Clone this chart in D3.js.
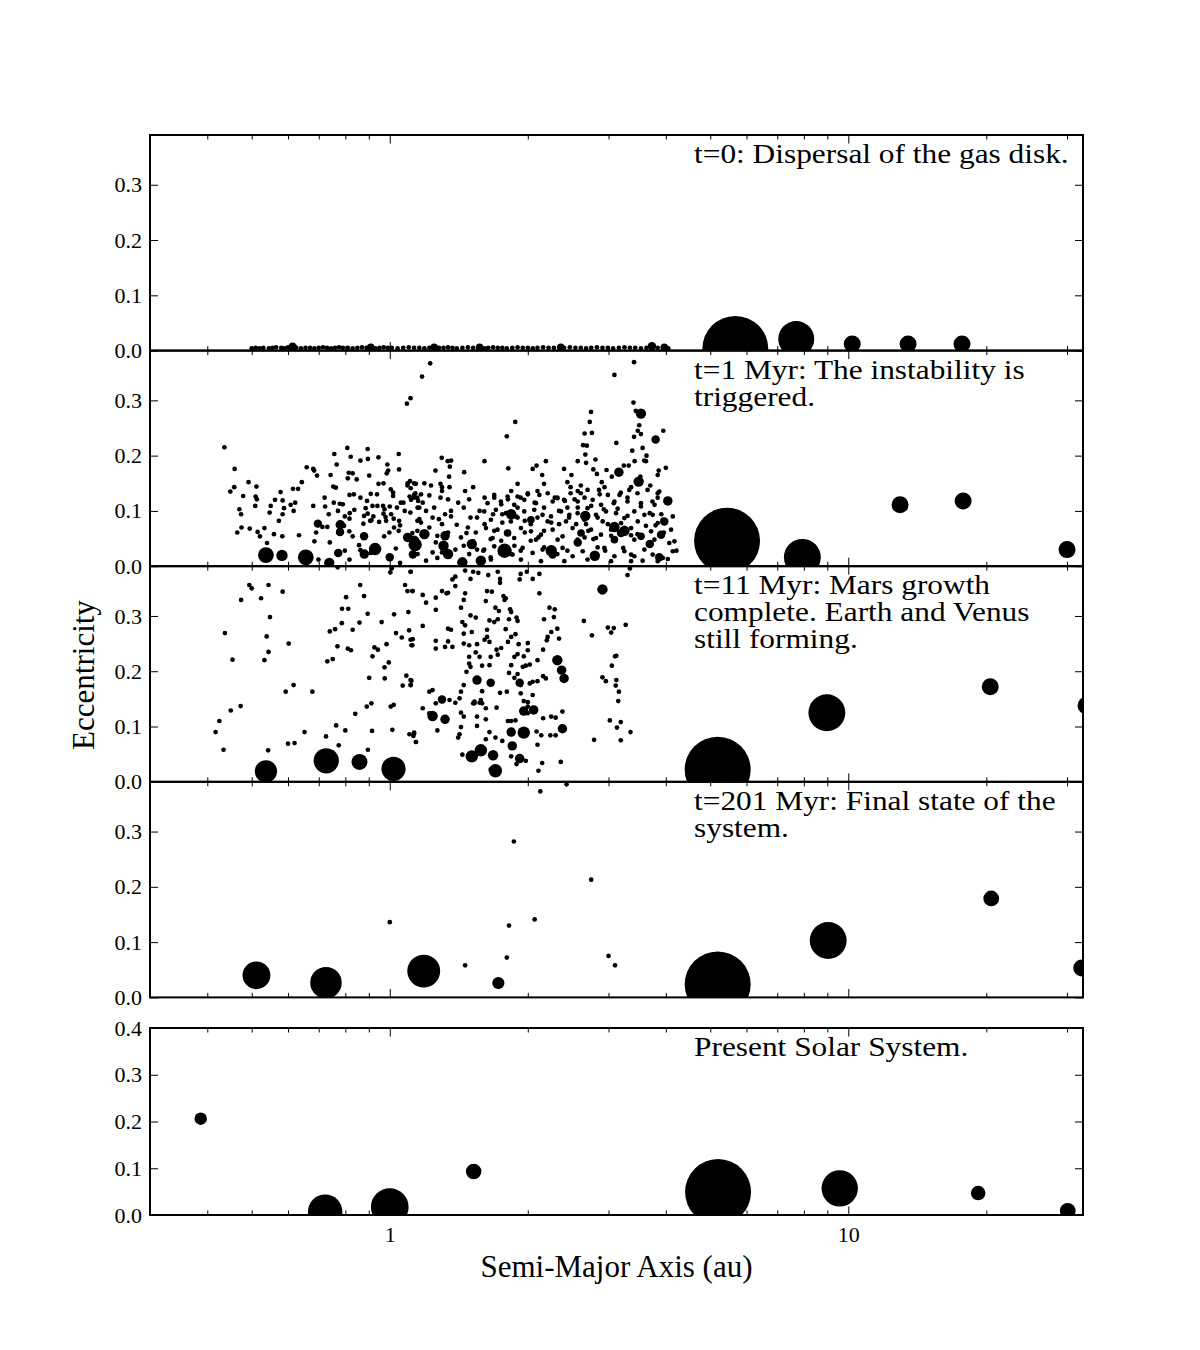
<!DOCTYPE html>
<html>
  <head>
    <meta charset="UTF-8">
    <script src="https://d3js.org/d3.v7.min.js"></script>
    <style>
      body { margin: 0; background: #fff; }
      #svg { display: block; }
      #svg text { font-family: "Liberation Serif", "Times New Roman", serif; fill: #000; }
      .ticks line { stroke: #000; stroke-width: 1; }
      .ticks .domain { stroke: none; }
    </style>
    <title>Eccentricity vs semi-major axis</title>
  </head>
  <body>
    <svg id="svg" width="1200" height="1350"></svg>
    <script>

// ************ Part A: data ************
// a = semi-major axis (au), e = eccentricity, m = mass (Earth masses)

const panelLabels = [
  ["t=0: Dispersal of the gas disk."],
  ["t=1 Myr: The instability is", "triggered."],
  ["t=11 Myr: Mars growth", "complete. Earth and Venus", "still forming."],
  ["t=201 Myr: Final state of the", "system."],
  ["Present Solar System."]
];

const yTicks = [0.0, 0.1, 0.2, 0.3];
const yTicksSolar = [0.0, 0.1, 0.2, 0.3, 0.4];
const xMajorTicks = [1, 10];
const xMinorTicks = [0.4, 0.5, 0.6, 0.7, 0.8, 0.9, 2, 3, 4, 5, 6, 7, 8, 9, 20, 30];

// t = 0
const t0Planetesimals = [
  [0.50,0.004],[0.51,0.005],[0.52,0.004],[0.53,0.005],[0.545,0.004],[0.555,0.005],[0.565,0.006],[0.58,0.005],
  [0.59,0.004],[0.60,0.006],[0.625,0.005],[0.64,0.004],[0.655,0.005],[0.67,0.005],[0.685,0.004],[0.70,0.005],
  [0.715,0.006],[0.73,0.005],[0.745,0.004],[0.76,0.005],[0.775,0.006],[0.79,0.005],[0.81,0.005],[0.83,0.004],
  [0.85,0.005],[0.87,0.006],[0.89,0.005],[0.93,0.004],[0.95,0.005],[0.97,0.006],[0.99,0.005],[1.01,0.005],
  [1.04,0.004],[1.07,0.005],[1.10,0.006],[1.13,0.005],[1.16,0.005],[1.19,0.004],[1.22,0.005],[1.28,0.005],
  [1.31,0.005],[1.34,0.006],[1.37,0.005],[1.40,0.004],[1.44,0.005],[1.48,0.006],[1.52,0.005],[1.61,0.004],
  [1.64,0.005],[1.68,0.006],[1.72,0.005],[1.76,0.005],[1.80,0.004],[1.85,0.005],[1.90,0.006],[1.95,0.005],
  [2.00,0.005],[2.05,0.004],[2.10,0.005],[2.16,0.006],[2.22,0.005],[2.28,0.005],[2.40,0.005],[2.47,0.006],
  [2.54,0.005],[2.61,0.005],[2.68,0.004],[2.75,0.005],[2.83,0.006],[2.91,0.005],[2.99,0.005],[3.07,0.004],
  [3.16,0.005],[3.25,0.006],[3.34,0.005],[3.43,0.005],[3.53,0.004],[3.63,0.005],[3.84,0.005],[3.95,0.005],[4.05,0.004]
];
const t0Embryos = [
  [0.614,0.007,0.013],[0.909,0.006,0.008],[1.25,0.006,0.008],[1.57,0.006,0.008],[2.36,0.006,0.008],
  [3.73,0.008,0.013],[3.97,0.006,0.008]
];
const t0Giants = [[5.67,0.003,318],[7.7,0.021,93],[10.2,0.012,20],[13.5,0.012,20],[17.7,0.012,20]];

// t = 1 Myr
const t1Planetesimals = [
  [1.11,0.304],[1.09,0.294],[0.436,0.215],[0.459,0.176],[0.449,0.135],[0.458,0.143],[0.479,0.127],[0.492,0.152],
  [0.512,0.144],[0.51,0.126],[0.513,0.121],[0.47,0.103],[0.474,0.094],[0.509,0.109],[0.475,0.070],[0.465,0.061],
  [0.495,0.068],[0.521,0.054],[0.515,0.062],[0.533,0.069],[0.54,0.042],[0.547,0.097],[0.55,0.109],[0.562,0.12],
  [0.578,0.134],[0.584,0.119],[0.573,0.082],[0.584,0.094],[0.583,0.054],[0.559,0.058],[0.588,0.105],[0.608,0.111],
  [0.615,0.14],[0.631,0.14],[0.622,0.115],[0.617,0.1],[0.634,0.056],[0.643,0.152],[0.659,0.179],[0.681,0.176],
  [0.684,0.173],[0.694,0.164],[0.681,0.109],[0.685,0.045],[0.691,0.061],[0.699,0.012],[0.721,0.124],[0.723,0.108],
  [0.713,0.071],[0.731,0.071],[0.736,0.094],[0.74,0.043],[0.743,0.165],[0.753,0.144],[0.757,0.203],[0.763,0.142],
  [0.766,0.184],[0.755,0.115],[0.778,0.113],[0.79,0.112],[0.771,0.1],[0.798,0.09],[0.808,0.214],[0.822,0.198],
  [0.81,0.159],[0.814,0.169],[0.83,0.168],[0.847,0.157],[0.817,0.129],[0.835,0.13],[0.837,0.102],[0.818,0.096],
  [0.817,0.086],[0.795,0.073],[0.816,0.063],[0.83,0.054],[0.857,0.038],[0.863,0.191],[0.895,0.212],[0.896,0.194],
  [0.945,0.197],[0.902,0.164],[0.863,0.124],[0.892,0.118],[0.909,0.131],[0.938,0.13],[0.945,0.149],[0.969,0.15],
  [0.886,0.105],[0.895,0.095],[0.917,0.109],[0.94,0.109],[0.967,0.109],[0.974,0.103],[0.921,0.09],[0.906,0.082],
  [0.879,0.091],[0.948,0.08],[0.979,0.089],[0.969,0.095],[0.876,0.077],[0.876,0.055],[0.912,0.083],[0.988,0.184],
  [0.985,0.168],[0.992,0.173],[1.046,0.203],[1.048,0.175],[1.005,0.139],[1.017,0.133],[1.017,0.127],[1.037,0.106],
  [1.057,0.115],[1.0,0.108],[1.007,0.094],[1.02,0.086],[1.048,0.082],[1.053,0.074],[1.071,0.115],[1.078,0.1],
  [1.094,0.15],[1.107,0.154],[1.13,0.15],[1.093,0.146],[1.111,0.141],[1.137,0.132],[1.105,0.126],[1.113,0.12],
  [1.13,0.129],[1.149,0.124],[1.153,0.118],[1.16,0.106],[1.149,0.082],[1.149,0.064],[1.124,0.043],[1.053,0.006],
  [1.109,0.097],[1.022,0.07],[0.998,0.061],[0.982,0.082],[0.972,0.054],[1.046,0.064],[1.031,0.032],[0.909,0.024],
  [0.863,0.029],[0.817,0.012],[0.798,0.028],
  [1.225,0.367],[1.176,0.343],[1.878,0.261],[1.80,0.235],[1.813,0.177],[1.609,0.19],[1.298,0.196],[1.258,0.173],
  [1.338,0.19],[1.352,0.18],[1.361,0.191],[1.453,0.17],[1.347,0.162],[3.09,0.346],[3.41,0.369],[3.40,0.296],
  [3.44,0.281],[3.54,0.272],[3.50,0.255],[3.474,0.245],[3.41,0.234],[3.53,0.239],[3.38,0.209],[3.56,0.214],
  [3.63,0.2],[3.59,0.191],[3.42,0.19],[3.12,0.223],[2.747,0.279],[2.73,0.261],[2.76,0.241],[2.66,0.24],
  [2.64,0.219],[2.69,0.218],[2.67,0.202],[2.57,0.19],[2.68,0.187],[2.81,0.193],[2.78,0.175],[2.83,0.167],
  [2.97,0.174],[3.05,0.162],[3.14,0.171],[3.24,0.182],[3.32,0.182],[3.52,0.162],[3.62,0.19],[3.95,0.245],
  [3.86,0.173],[3.84,0.165],[4.0,0.178],[3.70,0.146],[3.87,0.135],[3.84,0.124],[3.74,0.117],[3.53,0.108],
  [3.69,0.096],[3.91,0.094],[3.80,0.074],[3.62,0.073],[3.96,0.061],[4.07,0.042],[4.22,0.028],[4.04,0.013],
  [3.56,0.01],[3.36,0.021],[3.23,0.033],[2.99,0.076],[3.04,0.055],[3.36,0.056],[3.47,0.058],[3.14,0.104],
  [3.08,0.114],[3.19,0.133],[3.36,0.143],[3.30,0.124],[3.30,0.091],[2.94,0.143],[2.90,0.152],[2.87,0.13],
  [2.93,0.103],[2.84,0.088],[2.95,0.028],[2.84,0.034],[2.78,0.049],[2.68,0.076],[2.71,0.064],[2.75,0.109],
  [2.66,0.124],[2.57,0.136],[2.61,0.146],[2.44,0.152],[2.49,0.165],[2.40,0.176],[2.48,0.143],[2.53,0.121],
  [2.41,0.118],[2.32,0.124],[2.34,0.1],[2.44,0.106],[2.57,0.106],[2.46,0.088],[2.55,0.076],[2.66,0.052],
  [2.44,0.028],[2.32,0.022],[2.17,0.034],[2.11,0.052],[2.17,0.064],[2.25,0.079],[2.34,0.076],[2.10,0.088],
  [2.17,0.106],[2.07,0.115],[2.0,0.13],[2.10,0.136],[2.17,0.149],[2.29,0.124],[2.19,0.19],[2.15,0.165],
  [2.09,0.182],[2.05,0.176],[1.93,0.124],[1.90,0.106],[1.90,0.088],[1.97,0.082],[2.03,0.076],[1.97,0.061],
  [2.03,0.046],[1.93,0.028],[1.87,0.037],[1.84,0.022],[1.75,0.046],[1.66,0.049],[1.69,0.064],[1.76,0.079],
  [1.68,0.094],[1.75,0.112],[1.69,0.124],[1.61,0.124],[1.84,0.136],[1.90,0.149],[1.81,0.121],[1.76,0.094],
  [1.57,0.1],[1.55,0.088],[1.61,0.076],[1.54,0.061],[1.60,0.028],[1.66,0.016],[1.49,0.022],[1.45,0.037],
  [1.43,0.052],[1.48,0.07],[1.50,0.088],[1.45,0.106],[1.49,0.121],[1.52,0.143],[1.46,0.136],[1.35,0.143],
  [1.34,0.121],[1.30,0.136],[1.29,0.124],[1.32,0.094],[1.30,0.076],[1.34,0.061],[1.30,0.025],[1.26,0.043],
  [1.24,0.025],[1.20,0.01],[1.15,0.022],[1.14,0.037],[1.17,0.079],[1.20,0.1],[1.25,0.106],[1.24,0.088],
  [1.28,0.085],[1.15,0.106],[1.13,0.124],[1.17,0.13],[1.23,0.146],[1.19,0.15],[1.14,0.149],[1.29,0.149],[1.30,0.143],
  [1.12,0.06],[1.16,0.085],[1.22,0.07],[1.27,0.055],[1.36,0.09],[1.40,0.075],[1.47,0.06],[1.52,0.045],
  [1.55,0.03],[1.39,0.03],[1.27,0.015],[1.18,0.115],[1.41,0.115],[1.36,0.10],[1.22,0.128],
  [1.69,0.129],[1.807,0.126],[1.90,0.126],[2.0,0.132],[2.12,0.129],[2.21,0.132],[2.32,0.123],[2.48,0.132],
  [2.61,0.132],[2.70,0.138],[2.86,0.138],[2.99,0.129],[3.17,0.129],[3.33,0.138],[3.47,0.132],[3.65,0.138],
  [3.84,0.132],[1.634,0.114],[1.747,0.117],[1.868,0.111],[1.965,0.12],[2.084,0.114],[2.266,0.117],[2.40,0.12],
  [2.57,0.117],[2.77,0.12],[2.89,0.111],[3.09,0.117],[3.30,0.117],[3.53,0.114],[3.78,0.111],
  [1.607,0.099],[1.704,0.102],[1.792,0.096],[1.884,0.09],[1.965,0.099],[2.066,0.102],[2.154,0.093],[2.247,0.09],
  [2.363,0.099],[2.464,0.093],[2.569,0.096],[2.70,0.105],[2.817,0.093],[2.962,0.099],[3.115,0.096],[3.248,0.087],
  [3.415,0.099],[3.592,0.093],[3.745,0.093],[3.939,0.084],[4.142,0.09],[1.662,0.084],[1.837,0.081],
  [2.21,0.081],[2.423,0.081],[2.657,0.084],[2.913,0.081],[3.195,0.078],[3.474,0.081],[3.841,0.078],
  [1.621,0.069],[1.718,0.066],[1.932,0.069],[2.032,0.063],[2.137,0.057],[2.266,0.066],[2.382,0.054],
  [2.505,0.069],[2.747,0.066],[2.888,0.057],[3.038,0.066],[3.36,0.069],[3.714,0.063],[4.107,0.066],
  [1.676,0.051],[1.868,0.051],[2.084,0.048],[2.323,0.048],[2.569,0.048],[2.817,0.051],[3.415,0.048],[3.777,0.048],
  [4.177,0.045],[1.607,0.03],[1.69,0.036],[1.777,0.027],[1.853,0.021],[1.949,0.033],[2.049,0.024],[2.154,0.03],
  [2.382,0.033],[2.505,0.018],[2.635,0.027],[2.793,0.021],[2.938,0.033],[3.09,0.018],[3.248,0.027],[3.415,0.018],
  [3.592,0.03],[3.745,0.021],[3.939,0.015],[4.142,0.027],[1.662,0.012],[1.932,0.012],[2.137,0.009],[2.403,0.009],
  [2.70,0.012],[3.038,0.009],[3.36,0.009],[3.841,0.009]
];
const t1Embryos = [
  [0.537,0.020,0.112],[0.582,0.0195,0.041],[0.656,0.016,0.112],[0.738,0.006,0.03],[0.697,0.077,0.013],
  [0.78,0.075,0.021],[0.779,0.062,0.013],[0.772,0.024,0.013],[0.879,0.054,0.013],[0.88,0.022,0.021],
  [0.929,0.031,0.055],[1.0,0.016,0.013],[1.094,0.052,0.021],[1.136,0.039,0.069],[1.123,0.021,0.013],
  [3.16,0.17,0.021],[3.49,0.153,0.03],[3.53,0.276,0.03],[3.80,0.229,0.013],[4.04,0.118,0.021],
  [3.97,0.081,0.013],[3.69,0.04,0.013],[3.87,0.016,0.013],[3.25,0.064,0.03],[3.09,0.071,0.03],
  [2.67,0.091,0.03],[2.57,0.043,0.013],[2.80,0.019,0.03],[2.25,0.028,0.041],[1.84,0.094,0.03],
  [1.78,0.028,0.086],[1.51,0.04,0.03],[1.58,0.01,0.03],[1.32,0.055,0.021],[1.31,0.037,0.03],
  [1.34,0.022,0.03],[1.44,0.007,0.03],[1.13,0.046,0.03],[1.19,0.058,0.03],
  [1.807,0.06,0.008],[2.266,0.021,0.013],[2.613,0.06,0.008],[3.195,0.06,0.013],[3.532,0.054,0.008],
  [3.906,0.057,0.013],[2.032,0.084,0.008],[3.09,0.048,0.008]
];
const t1Giants = [[5.44,0.046,318],[7.94,0.016,98],[12.97,0.111,20],[17.8,0.118,20],[30.0,0.030,20]];

// t = 11 Myr
const t11Planetesimals = [
  [0.494,0.356],[0.50,0.350],[0.544,0.356],[0.584,0.344],[0.474,0.329],[0.524,0.332],[0.548,0.298],[0.437,0.269],
  [0.539,0.263],[0.544,0.235],[0.533,0.22],[0.454,0.221],[0.602,0.25],[0.803,0.334],[0.862,0.356],[0.879,0.336],
  [0.787,0.313],[0.812,0.313],[0.895,0.304],[0.786,0.287],[0.74,0.272],[0.76,0.276],[0.83,0.275],[0.859,0.288],
  [0.96,0.289],[1.022,0.303],[0.769,0.245],[0.81,0.241],[0.823,0.238],[0.731,0.218],[0.751,0.222],[0.917,0.227],
  [0.926,0.243],[0.942,0.239],[0.984,0.249],[0.974,0.207],[0.995,0.216],[0.902,0.188],[0.975,0.187],[1.032,0.269],
  [1.062,0.261],[1.098,0.307],[1.102,0.274],[1.122,0.258],[1.115,0.247],[1.08,0.356],[1.093,0.345],[1.122,0.345],
  [1.111,0.38],[1.003,0.379],[1.01,0.386],[0.77,0.388],[1.087,0.192],[1.115,0.183],[1.067,0.174],[1.111,0.175],
  [0.617,0.175],[0.593,0.163],[0.678,0.163],[0.473,0.137],[0.45,0.129],[0.425,0.11],[0.417,0.09],[0.434,0.058],
  [0.543,0.057],[0.60,0.069],[0.62,0.07],[0.652,0.09],[0.726,0.082],[0.774,0.066],[0.764,0.102],[0.80,0.093],
  [0.841,0.123],[0.891,0.136],[0.912,0.142],[0.915,0.092],[0.896,0.058],[1.005,0.136],[1.02,0.139],[1.013,0.094],
  [1.104,0.086],[1.13,0.089],[1.126,0.083],[1.141,0.072],
  [1.11,0.38],[1.12,0.345],[1.11,0.257],[1.12,0.247],[1.18,0.282],[1.20,0.324],[1.18,0.338],[1.26,0.333],
  [1.26,0.311],[1.30,0.345],[1.33,0.341],[1.34,0.342],[1.37,0.366],[1.39,0.371],[1.39,0.354],[1.46,0.382],
  [1.50,0.367],[1.52,0.38],[1.56,0.378],[1.46,0.341],[1.45,0.329],[1.43,0.315],[1.50,0.301],[1.54,0.297],
  [1.44,0.289],[1.46,0.283],[1.45,0.268],[1.51,0.271],[1.34,0.277],[1.36,0.275],[1.26,0.255],[1.26,0.241],
  [1.32,0.244],[1.34,0.254],[1.37,0.244],[1.45,0.25],[1.49,0.247],[1.55,0.249],[1.61,0.257],[1.65,0.253],
  [1.57,0.226],[1.54,0.234],[1.49,0.226],[1.49,0.214],[1.50,0.208],[1.47,0.199],[1.59,0.21],[1.65,0.211],
  [1.66,0.226],[1.72,0.23],[1.71,0.239],[1.63,0.262],[1.63,0.275],[1.65,0.292],[1.69,0.289],[1.72,0.294],
  [1.70,0.315],[1.73,0.309],[1.62,0.327],[1.63,0.345],[1.67,0.344],[1.74,0.367],[1.74,0.36],[1.72,0.38],
  [1.64,0.374],[1.77,0.336],[1.78,0.329],[1.79,0.332],[1.83,0.312],[1.84,0.307],[1.82,0.294],[1.89,0.297],
  [1.90,0.291],[1.93,0.376],[1.92,0.366],[1.99,0.38],[2.05,0.367],[2.12,0.376],[2.12,0.341],[1.84,0.262],
  [1.88,0.267],[1.81,0.253],[1.79,0.276],[1.75,0.242],[1.91,0.249],[2.0,0.251],[2.0,0.238],[1.96,0.227],
  [1.90,0.231],[1.87,0.226],[1.84,0.211],[1.82,0.197],[1.90,0.195],[1.87,0.188],[1.95,0.208],[1.98,0.21],
  [2.02,0.212],[2.10,0.22],[2.16,0.239],[2.20,0.256],[2.21,0.262],[2.25,0.271],[2.32,0.277],[2.28,0.298],
  [2.23,0.315],[2.29,0.312],[2.34,0.259],[2.17,0.294],[2.16,0.191],[2.19,0.187],[2.10,0.182],[2.05,0.181],
  [2.02,0.178],[1.93,0.175],[1.80,0.163],[1.74,0.161],[1.59,0.164],[1.58,0.148],[1.52,0.142],[1.53,0.145],
  [1.43,0.163],[1.45,0.175],[1.39,0.143],[1.42,0.151],[1.35,0.148],[1.24,0.166],[1.22,0.163],[1.26,0.142],
  [1.22,0.124],[1.18,0.133],[1.13,0.087],[1.14,0.072],[1.11,0.184],[1.11,0.175],[1.27,0.093],[1.42,0.086],
  [1.41,0.08],[1.43,0.099],[1.43,0.125],[1.45,0.118],[1.55,0.118],[1.53,0.142],[1.57,0.143],[1.59,0.142],
  [1.62,0.133],[1.71,0.134],[1.62,0.113],[1.55,0.101],[1.65,0.09],[1.70,0.08],[1.62,0.077],[1.44,0.049],
  [1.66,0.022],[1.76,0.074],[1.81,0.11],[1.84,0.11],[1.88,0.111],[2.0,0.136],[1.96,0.146],[2.0,0.144],
  [2.05,0.157],[1.93,0.16],[1.84,0.046],[1.89,0.032],[1.98,0.038],[2.10,0.067],[2.14,0.084],[2.09,0.091],
  [2.0,0.124],[2.16,0.115],[2.25,0.118],[2.30,0.116],[2.38,0.127],[2.24,0.084],[2.30,0.084],[2.15,0.034],
  [2.11,0.02],[2.36,0.036],
  [3.30,0.374],[3.34,0.386],[2.65,0.291],[2.76,0.265],[2.99,0.279],[3.04,0.27],[3.08,0.278],[3.27,0.284],
  [3.10,0.227],[3.12,0.228],[3.05,0.21],[2.91,0.189],[2.96,0.182],[3.12,0.184],[3.11,0.174],[3.16,0.163],
  [3.15,0.146],[3.02,0.111],[3.19,0.108],[3.13,0.098],[3.35,0.09],[3.19,0.075],[2.79,0.076]
];
const t11Embryos = [
  [0.537,0.019,0.284],[0.727,0.038,0.388],[0.859,0.036,0.117],[1.019,0.0235,0.351],[2.91,0.348,0.03],
  [1.92,0.179,0.013],[2.32,0.22,0.03],[2.37,0.202,0.021],[2.40,0.187,0.021],[1.55,0.184,0.021],
  [1.66,0.179,0.013],[1.30,0.149,0.013],[1.24,0.119,0.03],[1.32,0.113,0.021],[1.51,0.046,0.055],
  [1.58,0.057,0.055],[1.68,0.048,0.03],[1.70,0.02,0.069],[1.96,0.128,0.021],[2.06,0.13,0.021],
  [1.84,0.09,0.021],[1.96,0.089,0.055],[1.85,0.065,0.021],[1.92,0.042,0.021],[2.38,0.096,0.021]
];
const t11Giants = [[5.19,0.022,318],[8.98,0.125,98],[20.4,0.172,20],[33.0,0.138,20]];

// t = 201 Myr
const t201Planetesimals = [
  [1.0,0.136],[1.46,0.058],[1.80,0.072],[1.82,0.13],[1.865,0.282],[2.07,0.141],[2.13,0.3725],[2.43,0.3855],
  [2.75,0.213],[3.0,0.075],[3.1,0.058]
];
const t201Embryos = [[0.512,0.040,0.49],[0.726,0.0265,0.66],[1.186,0.0476,0.73],[1.725,0.026,0.052]];
const t201Giants = [[5.19,0.0235,318],[9.04,0.103,98],[20.5,0.179,17],[32.3,0.053,20]];

// present solar system (Mercury, Venus, Earth, Mars / Jupiter, Saturn, Uranus, Neptune)
const solarTerrestrial = [[0.387,0.206,0.055],[0.723,0.007,0.815],[1.0,0.017,1.0],[1.524,0.093,0.107]];
const solarGiants = [[5.20,0.049,317.8],[9.58,0.057,95.2],[19.2,0.047,14.5],[30.1,0.009,17.1]];

// ************ Part B: layout, scales ************

const svg = d3.select("svg#svg");
const left = 150;
const plotWidth = 933;
const serif = '"Liberation Serif", "Times New Roman", serif';

const panels = [
  { top: 135,   height: 215.6, yMax: 0.39, ticks: yTicks, small: t0Planetesimals, embryos: t0Embryos, giants: t0Giants },
  { top: 350.6, height: 215.6, yMax: 0.39, ticks: yTicks, small: t1Planetesimals, embryos: t1Embryos, giants: t1Giants },
  { top: 566.2, height: 215.6, yMax: 0.39, ticks: yTicks, small: t11Planetesimals, embryos: t11Embryos, giants: t11Giants },
  { top: 781.8, height: 215.6, yMax: 0.39, ticks: yTicks, small: t201Planetesimals, embryos: t201Embryos, giants: t201Giants },
  { top: 1028,  height: 187,   yMax: 0.40, ticks: yTicksSolar, small: [], embryos: solarTerrestrial, giants: solarGiants }
];

const xScale = d3.scaleLog().domain([0.3, 32.5]).range([0, plotWidth]);

// marker radius: terrestrial bodies and giant planets use separate mass scales
const rTerr = d3.scaleSqrt().domain([0, 1]).range([0, 16.5]);
const rGiant = d3.scaleSqrt().domain([0, 318]).range([0, 32.7]);
const edge = 2.35;

const defs = svg.append("defs");

// ************ Part C: draw panels ************

panels.forEach((p, i) => {
  const yScale = d3.scaleLinear().domain([0, p.yMax]).range([p.height, 0]);
  const g = svg.append("g").attr("transform", "translate(" + left + "," + p.top + ")");

  defs.append("clipPath").attr("id", "clip" + i)
    .append("rect").attr("width", plotWidth).attr("height", p.height);

  const plot = g.append("g").attr("clip-path", "url(#clip" + i + ")");

  plot.selectAll("circle.small")
    .data(p.small)
    .enter().append("circle")
    .attr("class", "small")
    .attr("cx", d => xScale(d[0]))
    .attr("cy", d => yScale(d[1]))
    .attr("r", edge)
    .attr("fill", "#000");

  plot.selectAll("circle.embryo")
    .data(p.embryos)
    .enter().append("circle")
    .attr("class", "embryo")
    .attr("cx", d => xScale(d[0]))
    .attr("cy", d => yScale(d[1]))
    .attr("r", d => edge + rTerr(d[2]))
    .attr("fill", "#000");

  plot.selectAll("circle.giant")
    .data(p.giants)
    .enter().append("circle")
    .attr("class", "giant")
    .attr("cx", d => xScale(d[0]))
    .attr("cy", d => yScale(d[1]))
    .attr("r", d => 0.3 + rGiant(d[2]))
    .attr("fill", "#000");

  // axes (ticks point inwards on every side)
  const last = i === panels.length - 1;

  g.append("g").attr("class", "ticks")
    .call(d3.axisLeft(yScale).tickValues(p.ticks).tickSize(-8).tickPadding(8).tickFormat(d3.format(".1f")));
  g.append("g").attr("class", "ticks")
    .attr("transform", "translate(" + plotWidth + ",0)")
    .call(d3.axisRight(yScale).tickValues(p.ticks).tickSize(-8).tickFormat(""));

  g.append("g").attr("class", "ticks")
    .call(d3.axisTop(xScale).tickValues(xMajorTicks).tickSize(-8.5).tickFormat(""));
  g.append("g").attr("class", "ticks")
    .call(d3.axisTop(xScale).tickValues(xMinorTicks).tickSize(-4.5).tickFormat(""));

  g.append("g").attr("class", "ticks")
    .attr("transform", "translate(0," + p.height + ")")
    .call(d3.axisBottom(xScale).tickValues(xMajorTicks).tickSize(-8.5).tickPadding(11)
      .tickFormat(last ? d3.format("d") : ""));
  g.append("g").attr("class", "ticks")
    .attr("transform", "translate(0," + p.height + ")")
    .call(d3.axisBottom(xScale).tickValues(xMinorTicks).tickSize(-4.5).tickFormat(""));

  g.selectAll(".ticks text")
    .style("font-family", serif)
    .style("font-size", "22px")
    .attr("fill", "#000");

  g.append("rect")
    .attr("width", plotWidth)
    .attr("height", p.height)
    .attr("fill", "none")
    .attr("stroke", "#000")
    .attr("stroke-width", 2);

  // panel caption
  const label = g.append("text")
    .attr("transform", "translate(544,28) scale(1.12,1)")
    .style("font-size", "28px");
  panelLabels[i].forEach((line, j) => {
    label.append("tspan").attr("x", 0).attr("y", j * 27).text(line);
  });
});

// axis titles
svg.append("text")
  .attr("x", left + plotWidth / 2)
  .attr("y", 1277)
  .attr("text-anchor", "middle")
  .style("font-size", "31px")
  .text("Semi-Major Axis (au)");

svg.append("text")
  .attr("transform", "translate(94,675) rotate(-90)")
  .attr("text-anchor", "middle")
  .style("font-size", "31px")
  .text("Eccentricity");

    </script>
  </body>
</html>
